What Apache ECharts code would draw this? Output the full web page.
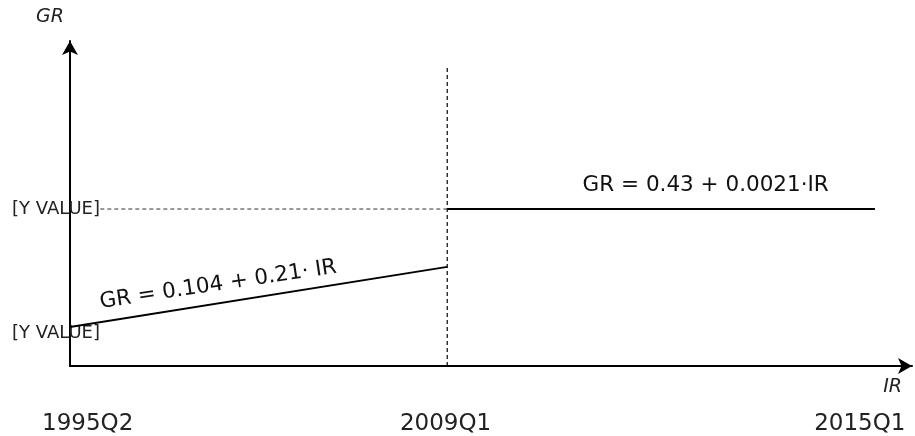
<!DOCTYPE html>
<html>
<head>
<meta charset="utf-8">
<script src="https://cdn.jsdelivr.net/npm/echarts@6/dist/echarts.min.js"></script>
<style>html,body{margin:0;padding:0;background:#fff}#c{width:915px;height:436px}</style>
</head>
<body>
<div id="c"></div>
<script>
// Schematic x positions (0..100 scale along IR axis) and GR values (0..100 schematic scale)
var periodLabels = ['1995Q2', '2009Q1', '2015Q1'];
var periodTickX = [2.1, 44.6, 93.8];
var regime1X = [0, 44.8];
var regime1Y = [12, 30.5];
var regime2X = [44.8, 95.6];
var regime2Y = [48.3, 48.3];
var breakX = 44.8;
var breakTopY = 92.6;
var guideStartX = 3.6;
var yLabelValues = [10.2, 48.3];
var yLabelText = '[Y VALUE]';
var eq1 = 'GR = 0.104 + 0.21\u00b7 IR';
var eq2 = 'GR = 0.43 + 0.0021\u00b7IR';
var eq1Pos = [17.6, 25.0];
var eq2Pos = [75.5, 55.7];

var font = 'DejaVu Sans';
var chart = echarts.init(document.getElementById('c'));

function pairs(xs, ys) { return xs.map(function (x, i) { return [x, ys[i]]; }); }

var option = {
  animation: false,
  grid: { left: 70, right: 3, top: 41, bottom: 70 },
  xAxis: {
    type: 'value', min: 0, max: 100,
    name: 'IR', nameLocation: 'end', nameGap: 0,
    nameTextStyle: { fontFamily: font, fontStyle: 'italic', fontSize: 19, color: '#222', align: 'right', verticalAlign: 'top', padding: [12, 10, 0, 0] },
    axisLine: { show: true, lineStyle: { color: '#000', width: 2 }, symbol: ['none', 'arrow'], symbolSize: [12, 14] },
    axisTick: { show: false },
    splitLine: { show: false },
    axisLabel: {
      customValues: periodTickX,
      margin: 47, fontFamily: font, fontSize: 23, color: '#222',
      formatter: function (v) { var i = periodTickX.indexOf(v); return i >= 0 ? periodLabels[i] : ''; }
    }
  },
  yAxis: {
    type: 'value', min: 0, max: 100,
    name: 'GR', nameLocation: 'end', nameGap: 14,
    nameTextStyle: { fontFamily: font, fontStyle: 'italic', fontSize: 19, color: '#222', align: 'right', padding: [0, 6, 0, 0] },
    axisLine: { show: true, lineStyle: { color: '#000', width: 2 }, symbol: ['none', 'arrow'], symbolSize: [12, 14] },
    axisTick: { show: false },
    splitLine: { show: false },
    axisLabel: {
      customValues: yLabelValues,
      margin: -30, fontFamily: font, fontSize: 18, color: '#222',
      formatter: function () { return yLabelText; }
    }
  },
  series: [
    {
      type: 'line', data: pairs(regime1X, regime1Y), symbol: 'none',
      lineStyle: { color: '#000', width: 2 },
      markPoint: {
        symbol: 'circle', symbolSize: 0,
        label: { show: true, position: 'inside', formatter: eq1, rotate: 8.5, fontFamily: font, fontSize: 21.5, color: '#111' },
        data: [{ coord: eq1Pos }]
      }
    },
    {
      type: 'line', data: pairs(regime2X, regime2Y), symbol: 'none',
      lineStyle: { color: '#000', width: 2 },
      markPoint: {
        symbol: 'circle', symbolSize: 0,
        label: { show: true, position: 'inside', formatter: eq2, fontFamily: font, fontSize: 21.5, color: '#111' },
        data: [{ coord: eq2Pos }]
      }
    },
    {
      type: 'line', data: [[breakX, 0], [breakX, breakTopY]], symbol: 'none',
      lineStyle: { color: '#000', width: 1.2, type: [4, 3] }
    },
    {
      type: 'line', data: [[guideStartX, regime2Y[0]], [breakX, regime2Y[0]]], symbol: 'none',
      lineStyle: { color: '#333', width: 1, type: [4, 3] }
    }
  ]
};
chart.setOption(option);
</script>
</body>
</html>
